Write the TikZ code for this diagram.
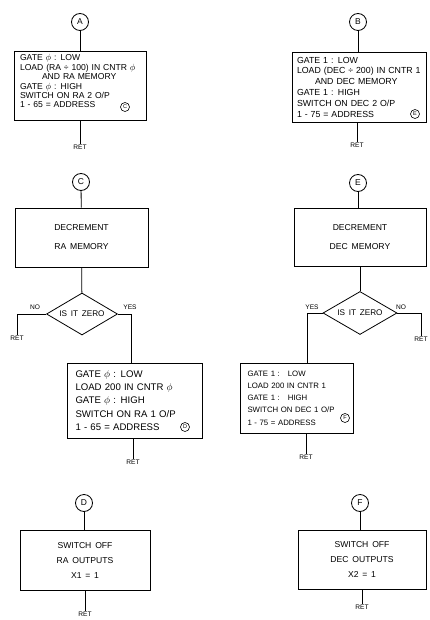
\documentclass[tikz,border=0pt]{standalone}
\usepackage{fontspec}
\setmainfont{Liberation Sans}
\newfontfamily\wideboxfont[WordSpace=1.6]{Liberation Sans}
\usetikzlibrary{
    shapes.geometric,
    positioning
}
\tikzset{
    flow/.style={line width=0.8pt},
    block/.style={
        draw, line width=0.8pt,
        inner sep=0pt
    },
    listbox/.style={
        block, align=left,
        font=\fontsize{8.6}{9.4}\selectfont
    },
    midbox/.style={
        block, align=center,
        font=\wideboxfont\fontsize{8.6}{9}\selectfont
    },
    connector/.style={
        draw, circle, line width=0.8pt,
        minimum size=17pt, inner sep=0pt,
        font=\fontsize{8.5}{9}\selectfont
    },
    tag/.style={
        draw, circle, line width=0.6pt,
        minimum size=9pt, inner sep=0pt,
        font=\fontsize{5.5}{6}\selectfont
    },
    decision/.style={
        draw, diamond, aspect=1.7, line width=0.8pt,
        inner sep=0pt,
        font=\wideboxfont\fontsize{8.2}{9}\selectfont
    },
    ret/.style={
        inner sep=1pt,
        font=\fontsize{6.6}{7}\selectfont
    }
}

\begin{document}
\begin{tikzpicture}[x=1pt, y=-1pt]

    \useasboundingbox (0,0) rectangle (429,620);

    % Entry A: RA counter set-up
    \node[connector] (conA) at (80,22) {A};
    \node[listbox, minimum width=132pt, minimum height=69pt,
          text width=120pt] (boxA) at (80,86) {%
        GATE $\phi$ : LOW\\
        LOAD (RA ÷ 100) IN CNTR $\phi$\\
        \hspace*{22pt}AND RA MEMORY\\
        GATE $\phi$ : HIGH\\
        SWITCH ON RA 2 O/P\\
        1 - 65 = ADDRESS\\ \mbox{}};
    \node[tag] (tagC) at (125,107) {C};
    \node[ret] (retA) at (80,147) {RET};

    % Entry B: DEC counter set-up
    \node[connector] (conB) at (358,22) {B};
    \node[listbox, minimum width=134pt, minimum height=70pt,
          text width=124pt, font=\fontsize{8.8}{10.8}\selectfont]
        (boxB) at (359,87) {%
        GATE 1 : LOW\\
        LOAD (DEC ÷ 200) IN CNTR 1\\
        \hspace*{18pt}AND DEC MEMORY\\
        GATE 1 : HIGH\\
        SWITCH ON DEC 2 O/P\\
        1 - 75 = ADDRESS};
    \node[tag] (tagE) at (415,114) {E};
    \node[ret] (retB) at (357,145) {RET};

    % Entry C: decrement RA
    \node[connector] (conC) at (81,182) {C};
    \node[midbox, minimum width=133pt, minimum height=59pt]
        (decRA) at (81.5,237.5) {DECREMENT\\[10pt]RA MEMORY};
    \node[decision, minimum width=71pt, minimum height=42pt]
        (zeroRA) at (82,314) {IS IT ZERO};
    \node[ret] (noRA) at (35,307) {NO};
    \node[ret] (yesRA) at (130,307) {YES};
    \coordinate (turnNoRA) at (17,314);
    \coordinate (turnYesRA) at (131,314);
    \node[ret] (retNoRA) at (17,338) {RET};

    \node[listbox, minimum width=135pt, minimum height=75pt,
          text width=118pt, font=\wideboxfont\fontsize{9.6}{13.2}\selectfont]
        (loadRA) at (134.5,400.5) {%
        GATE $\phi$ : LOW\\
        LOAD 200 IN CNTR $\phi$\\
        GATE $\phi$ : HIGH\\
        SWITCH ON RA 1 O/P\\
        1 - 65 = ADDRESS};
    \node[tag] (tagD) at (185,427) {D};
    \node[ret] (retLoadRA) at (133,462) {RET};

    % Entry E: decrement DEC
    \node[connector] (conE) at (358,183) {E};
    \node[midbox, minimum width=132pt, minimum height=58pt]
        (decDEC) at (360,237) {DECREMENT\\[10pt]DEC MEMORY};
    \node[decision, minimum width=74pt, minimum height=43pt]
        (zeroDEC) at (360,313) {IS IT ZERO};
    \node[ret] (yesDEC) at (312,307) {YES};
    \node[ret] (noDEC) at (401,307) {NO};
    \coordinate (turnYesDEC) at (307,313);
    \coordinate (turnNoDEC) at (421,313);
    \node[ret] (retNoDEC) at (421,339) {RET};

    \node[listbox, minimum width=113pt, minimum height=70pt,
          text width=98pt, font=\fontsize{7.8}{12.2}\selectfont]
        (loadDEC) at (296.5,398) {%
        GATE 1 :\hspace{8pt}LOW\\
        LOAD 200 IN CNTR 1\\
        GATE 1 :\hspace{8pt}HIGH\\
        SWITCH ON DEC 1 O/P\\
        1 - 75 = ADDRESS};
    \node[tag] (tagF) at (345,418) {F};
    \node[ret] (retLoadDEC) at (306,457) {RET};

    % Entry D: RA off
    \node[connector] (conD) at (84,503) {D};
    \node[midbox, minimum width=130pt, minimum height=60pt]
        (offRA) at (85,560) {SWITCH OFF\\[6pt]RA OUTPUTS\\[6pt]X1 = 1};
    \node[ret] (retOffRA) at (85,614) {RET};

    % Entry F: DEC off
    \node[connector] (conF) at (360,503) {F};
    \node[midbox, minimum width=128pt, minimum height=59pt]
        (offDEC) at (362,559.5) {SWITCH OFF\\[6pt]DEC OUTPUTS\\[6pt]X2 = 1};
    \node[ret] (retOffDEC) at (362,607) {RET};

    % Flow lines
    \draw[flow] (conA) -- (boxA);
    \draw[flow] (boxA) -- (retA);
    \draw[flow] (conB) -- (conB |- boxB.north);
    \draw[flow] (retB |- boxB.south) -- (retB);

    \draw[flow] (conC) -- (decRA);
    \draw[flow] (decRA) -- (zeroRA);
    \draw[flow] (zeroRA.west) -- (turnNoRA) -- (retNoRA);
    \draw[flow] (zeroRA.east) -- (turnYesRA) -- (turnYesRA |- loadRA.north);
    \draw[flow] (retLoadRA |- loadRA.south) -- (retLoadRA);

    \draw[flow] (conE) -- (conE |- decDEC.north);
    \draw[flow] (zeroDEC.north |- decDEC.south) -- (zeroDEC);
    \draw[flow] (zeroDEC.east) -- (turnNoDEC) -- (retNoDEC);
    \draw[flow] (zeroDEC.west) -- (turnYesDEC) -- (turnYesDEC |- loadDEC.north);
    \draw[flow] (retLoadDEC |- loadDEC.south) -- (retLoadDEC);

    \draw[flow] (conD) -- (conD |- offRA.north);
    \draw[flow] (offRA) -- (retOffRA);
    \draw[flow] (conF) -- (conF |- offDEC.north);
    \draw[flow] (offDEC) -- (retOffDEC);

\end{tikzpicture}
\end{document}
